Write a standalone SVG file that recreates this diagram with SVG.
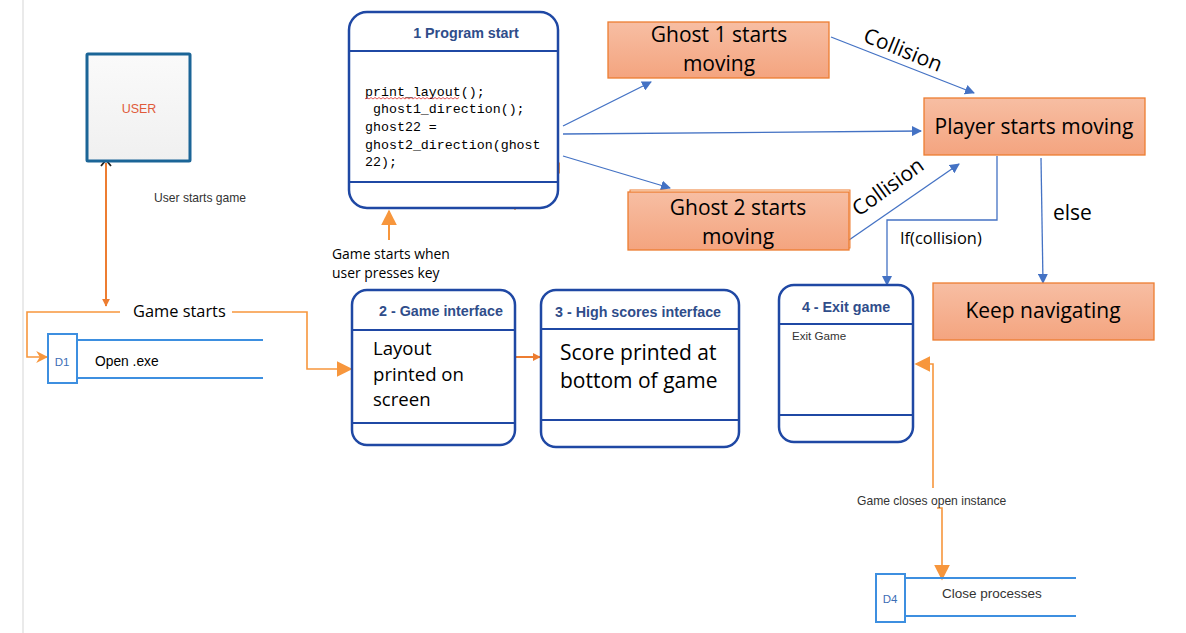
<svg xmlns="http://www.w3.org/2000/svg" width="1186" height="633" viewBox="0 0 1186 633">
<defs>
<linearGradient id="sal" x1="0" y1="0" x2="0" y2="1"><stop offset="0" stop-color="#f7bea3"/><stop offset="1" stop-color="#f4a47f"/></linearGradient>
<linearGradient id="gry" x1="0" y1="0" x2="0" y2="1"><stop offset="0" stop-color="#fafafa"/><stop offset="1" stop-color="#f0f0f0"/></linearGradient>
<marker id="ab" viewBox="0 0 10 10" refX="9" refY="5" markerWidth="10" markerHeight="10" markerUnits="userSpaceOnUse" orient="auto"><path d="M0,0 L10,5 L0,10 z" fill="#4472c4"/></marker>
<marker id="ao" viewBox="0 0 10 10" refX="9" refY="5" markerWidth="12" markerHeight="12" markerUnits="userSpaceOnUse" orient="auto"><path d="M0,0 L10,5 L0,10 L3,5 z" fill="#f7963c"/></marker>
<marker id="aoS" viewBox="0 0 10 10" refX="9" refY="5" markerWidth="8" markerHeight="8" markerUnits="userSpaceOnUse" orient="auto"><path d="M0,0 L10,5 L0,10 z" fill="#ed7d31"/></marker>
<marker id="aoB" viewBox="0 0 10 10" refX="9" refY="5" markerWidth="16" markerHeight="16" markerUnits="userSpaceOnUse" orient="auto"><path d="M0,0 L10,5 L0,10 z" fill="#f7963c"/></marker>
</defs>
<style>
.proc{fill:#fff;stroke:#1f48a4;stroke-width:2.5}
.div{stroke:#1f48a4;stroke-width:2}
.hdr{font-family:"Liberation Sans",Arial,sans-serif;font-weight:bold;font-size:14.3px;fill:#2f4d8a;text-anchor:middle}
.big{font-family:"Open Sans","Noto Sans",sans-serif;font-size:21px;fill:#000}
.mid{font-family:"Open Sans","Noto Sans",sans-serif;font-size:16.4px;fill:#000}
.sm{font-family:"Liberation Sans",Arial,sans-serif;font-size:12.1px;fill:#333}
.note{font-family:"Open Sans","Noto Sans",sans-serif;font-size:13.9px;fill:#000}
.code{font-family:"Liberation Mono","DejaVu Sans Mono",monospace;font-size:13.3px;fill:#000}
.ghost{fill:url(#sal);stroke:#ed7d31;stroke-width:1.3}
.blue{stroke:#4472c4;stroke-width:1.3;fill:none}
.or{stroke:#f7963c;stroke-width:1.6;fill:none}
.store{fill:none;stroke:#3d8fe0;stroke-width:2}
</style>
<line x1="23" y1="0" x2="23" y2="633" stroke="#e3e3e3" stroke-width="1.5"/>

<g id="connectors">
<line x1="106" y1="163" x2="106" y2="306" stroke="#ed7d31" stroke-width="2" marker-end="url(#aoS)"/>
<path d="M101,166 L106,160 L111,166" fill="none" stroke="#222" stroke-width="1.8"/>
<path class="or" d="M120,312 L27,312 L27,357 L47,357" marker-end="url(#ao)"/>
<path class="or" d="M232,312 L307,312 L307,369 L351,369" marker-end="url(#aoB)"/>
<line x1="389" y1="240" x2="389" y2="211" stroke="#f7963c" stroke-width="2" marker-end="url(#aoB)"/>
<line x1="390" y1="290" x2="434" y2="290" stroke="#f7963c" stroke-width="2"/>
<path d="M560,162 L554,168 L560,174 z" fill="#f7963c"/>
<line class="blue" x1="563" y1="126" x2="651" y2="82" marker-end="url(#ab)"/>
<line class="blue" x1="563" y1="134" x2="921" y2="131" marker-end="url(#ab)"/>
<line class="blue" x1="563" y1="156" x2="670" y2="188" marker-end="url(#ab)"/>
<line class="blue" x1="831" y1="37" x2="974" y2="93" marker-end="url(#ab)"/>
<line class="blue" x1="849" y1="240" x2="959" y2="164" marker-end="url(#ab)"/>
<path class="blue" d="M997,156 L997,220 L887,220 L887,285" marker-end="url(#ab)"/>
<line class="blue" x1="1041" y1="158" x2="1043" y2="283" marker-end="url(#ab)"/>
<line x1="515" y1="357" x2="540" y2="357" stroke="#ed7d31" stroke-width="2" marker-end="url(#aoS)"/>
<path class="or" d="M933,488 L933,364 L916,364" marker-end="url(#aoB)"/>
<path class="or" d="M937,508 L942,508 L942,579" marker-end="url(#aoB)"/>
<path d="M431,446 L434,442 L437,446 z M480,446 L483,442 L486,446 z M638,448 L641,444 L644,448 z M699,448 L702,444 L705,448 z" fill="#f7963c"/>
<line x1="515" y1="206" x2="515" y2="210" stroke="#f7963c" stroke-width="1.5"/>
</g>

<g id="user">
<rect x="87" y="54" width="103" height="107" fill="url(#gry)" stroke="#1b6597" stroke-width="3" rx="1"/>
<text x="139" y="113" font-family="Liberation Sans,Arial,sans-serif" font-size="12.5" fill="#e05a3a" text-anchor="middle">USER</text>
</g>
<text class="sm" x="154" y="202">User starts game</text>
<text class="mid" x="133" y="317">Game starts</text>

<g id="d1">
<rect x="48" y="334" width="29" height="49" class="store"/>
<line x1="77" y1="340" x2="263" y2="340" class="store"/>
<line x1="77" y1="378" x2="263" y2="378" class="store"/>
<text x="62" y="366" font-family="Liberation Sans,Arial,sans-serif" font-size="11.5" fill="#3b6eb5" text-anchor="middle">D1</text>
<text x="95" y="366" font-family="Liberation Sans,Arial,sans-serif" font-size="13.8" fill="#000">Open .exe</text>
</g>

<g id="p1">
<rect x="349" y="12" width="209" height="196" rx="18" class="proc"/>
<line x1="349" y1="51" x2="558" y2="51" class="div"/>
<line x1="349" y1="182" x2="558" y2="182" class="div"/>
<text class="hdr" x="466" y="38">1 Program start</text>
<text class="code" x="365" y="96">print_layout();</text>
<text class="code" x="365" y="113" xml:space="preserve"> ghost1_direction();</text>
<text class="code" x="365" y="131">ghost22 =</text>
<text class="code" x="365" y="149">ghost2_direction(ghost</text>
<text class="code" x="365" y="166">22);</text>
<path d="M365,99 l2,-1.5 l2,1.5 l2,-1.5 l2,1.5 l2,-1.5 l2,1.5 l2,-1.5 l2,1.5 l2,-1.5 l2,1.5 l2,-1.5 l2,1.5 l2,-1.5 l2,1.5 l2,-1.5 l2,1.5 l2,-1.5 l2,1.5 l2,-1.5 l2,1.5 l2,-1.5 l2,1.5 l2,-1.5 l2,1.5 l2,-1.5 l2,1.5 l2,-1.5 l2,1.5 l2,-1.5 l2,1.5 l2,-1.5 l2,1.5 l2,-1.5 l2,1.5 l2,-1.5 l2,1.5 l2,-1.5 l2,1.5 l2,-1.5 l2,1.5 l2,-1.5 l2,1.5 l2,-1.5 l2,1.5 l2,-1.5 l2,1.5 l2,-1.5" fill="none" stroke="#e03030" stroke-width="0.8"/>
</g>
<text class="note" x="332" y="259">Game starts when</text>
<text class="note" x="332" y="278">user presses key</text>

<g id="ghost1">
<rect x="608" y="22" width="221" height="56" class="ghost"/>
<text class="big" x="719" y="42" text-anchor="middle">Ghost 1 starts</text>
<text class="big" x="719" y="71" text-anchor="middle">moving</text>
</g>
<text class="big" x="903" y="57" text-anchor="middle" transform="rotate(22 903 50)">Collision</text>

<g id="ghost2">
<rect x="630" y="190" width="220" height="58" fill="none" stroke="#ed7d31" stroke-width="1"/>
<rect x="628" y="192" width="221" height="58" class="ghost"/>
<text class="big" x="738" y="215" text-anchor="middle">Ghost 2 starts</text>
<text class="big" x="738" y="244" text-anchor="middle">moving</text>
</g>
<text class="big" x="888" y="194" text-anchor="middle" transform="rotate(-36 888 187)">Collision</text>

<g id="player">
<rect x="924" y="98" width="221" height="57" class="ghost"/>
<text class="big" x="1034" y="134" text-anchor="middle">Player starts moving</text>
</g>
<text class="mid" x="900" y="244">If(collision)</text>
<text class="big" x="1053" y="220">else</text>

<g id="keep">
<rect x="933" y="283" width="221" height="57" class="ghost"/>
<text class="big" x="1043" y="318" text-anchor="middle">Keep navigating</text>
</g>

<g id="p2">
<rect x="352" y="290" width="163" height="155" rx="15" class="proc"/>
<line x1="352" y1="330" x2="515" y2="330" class="div"/>
<line x1="352" y1="423" x2="515" y2="423" class="div"/>
<text class="hdr" x="441" y="316">2 - Game interface</text>
<text class="big" x="373" y="355" style="font-size:18.6px">Layout</text>
<text class="big" x="373" y="381" style="font-size:18.6px">printed on</text>
<text class="big" x="373" y="406" style="font-size:18.6px">screen</text>
</g>

<g id="p3">
<rect x="541" y="290" width="198" height="157" rx="15" class="proc"/>
<line x1="541" y1="329" x2="739" y2="329" class="div"/>
<line x1="541" y1="420" x2="739" y2="420" class="div"/>
<text class="hdr" x="638" y="317">3 - High scores interface</text>
<text class="big" x="560" y="360">Score printed at</text>
<text class="big" x="560" y="388">bottom of game</text>
</g>

<g id="p4">
<rect x="779" y="285" width="134" height="157" rx="15" class="proc"/>
<line x1="779" y1="324" x2="913" y2="324" class="div"/>
<line x1="779" y1="415" x2="913" y2="415" class="div"/>
<text class="hdr" x="846" y="312">4 - Exit game</text>
<text class="sm" x="792" y="340" style="font-size:11.6px">Exit Game</text>
</g>
<text class="sm" x="857" y="505">Game closes open instance</text>

<g id="d4">
<rect x="876" y="574" width="29" height="48" class="store"/>
<line x1="905" y1="578" x2="1076" y2="578" class="store"/>
<line x1="905" y1="616" x2="1076" y2="616" class="store"/>
<text x="890" y="603" font-family="Liberation Sans,Arial,sans-serif" font-size="11.5" fill="#3b6eb5" text-anchor="middle">D4</text>
<text x="942" y="598" font-family="Liberation Sans,Arial,sans-serif" font-size="13.5" fill="#333">Close processes</text>
</g>
</svg>
